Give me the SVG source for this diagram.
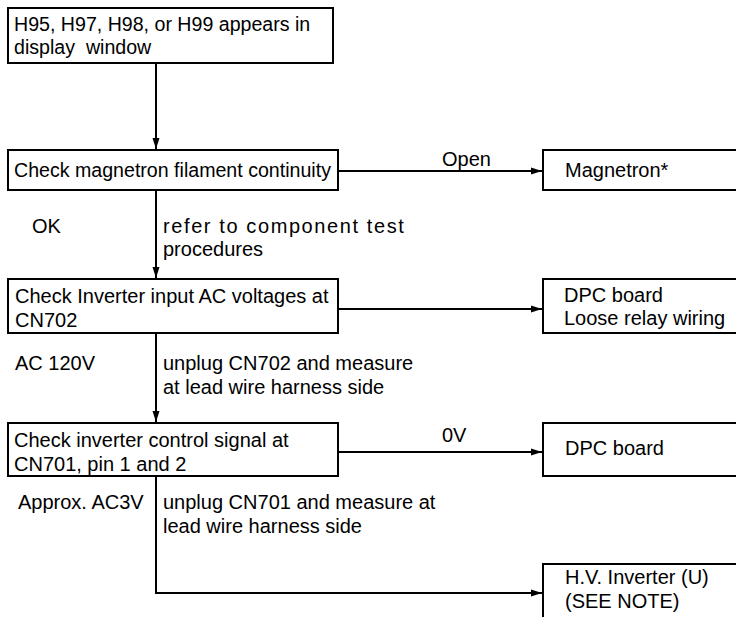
<svg xmlns="http://www.w3.org/2000/svg" width="736" height="617" viewBox="0 0 736 617">
<defs>
<marker id="arr" markerUnits="userSpaceOnUse" markerWidth="12" markerHeight="8" refX="11" refY="4" orient="auto">
<path d="M0,0.5 L11,4 L0,7.5 z" fill="#000"/>
</marker>
<style>
.box{fill:#fff;stroke:#000;stroke-width:2}
.t{font-family:"Liberation Sans",Arial,sans-serif;font-size:20px;fill:#000}
.s{font-size:19.6px}
.c{fill:none;stroke:#000;stroke-width:2}
</style>
</defs>
<rect width="736" height="617" fill="#fff"/>
<g id="connectors">
<line class="c" x1="156" y1="63" x2="156" y2="149" marker-end="url(#arr)"/>
<line class="c" x1="156" y1="190" x2="156" y2="278" marker-end="url(#arr)"/>
<line class="c" x1="156" y1="333" x2="156" y2="422" marker-end="url(#arr)"/>
<polyline class="c" points="156,476 156,593 542,593" marker-end="url(#arr)"/>
<line class="c" x1="338" y1="171" x2="542" y2="171" marker-end="url(#arr)"/>
<line class="c" x1="338" y1="309" x2="542" y2="309" marker-end="url(#arr)"/>
<line class="c" x1="338" y1="452" x2="542" y2="452" marker-end="url(#arr)"/>
<text class="t" x="442" y="166">Open</text>
<text class="t" x="32" y="233">OK</text>
<text class="t" x="163" y="233" letter-spacing="1.6">refer to component test</text>
<text class="t" x="163" y="256">procedures</text>
<text class="t" x="15" y="370">AC 120V</text>
<text class="t" x="163" y="370">unplug CN702 and measure</text>
<text class="t" x="163" y="394">at lead wire harness side</text>
<text class="t" x="442" y="442">0V</text>
<text class="t" x="18" y="509">Approx. AC3V</text>
<text class="t" x="163" y="509">unplug CN701 and measure at</text>
<text class="t" x="163" y="533">lead wire harness side</text>
</g>
<g id="start">
<rect class="box" x="8" y="8" width="325" height="55"/>
<text class="t s" x="14" y="31">H95, H97, H98, or H99 appears in</text>
<text class="t s" x="14" y="54" xml:space="preserve">display  window</text>
</g>
<g id="check-filament">
<rect class="box" x="8" y="150" width="330" height="40"/>
<text class="t s" x="14" y="177">Check magnetron filament continuity</text>
</g>
<g id="magnetron">
<rect class="box" x="543" y="150" width="210" height="40"/>
<text class="t" x="565" y="177">Magnetron*</text>
</g>
<g id="check-input">
<rect class="box" x="8" y="279" width="330" height="54"/>
<text class="t" x="15" y="303">Check Inverter input AC voltages at</text>
<text class="t" x="15" y="327">CN702</text>
</g>
<g id="dpc-relay">
<rect class="box" x="543" y="279" width="210" height="54"/>
<text class="t" x="564" y="302">DPC board</text>
<text class="t" x="564" y="325">Loose relay wiring</text>
</g>
<g id="check-control">
<rect class="box" x="8" y="423" width="330" height="53"/>
<text class="t" x="14" y="447">Check inverter control signal at</text>
<text class="t" x="14" y="471">CN701, pin 1 and 2</text>
</g>
<g id="dpc-board">
<rect class="box" x="543" y="423" width="210" height="53"/>
<text class="t" x="565" y="455">DPC board</text>
</g>
<g id="hv-inverter">
<rect class="box" x="543" y="564" width="210" height="70"/>
<text class="t" x="565" y="584">H.V. Inverter (U)</text>
<text class="t" x="565" y="608">(SEE NOTE)</text>
</g>
</svg>
